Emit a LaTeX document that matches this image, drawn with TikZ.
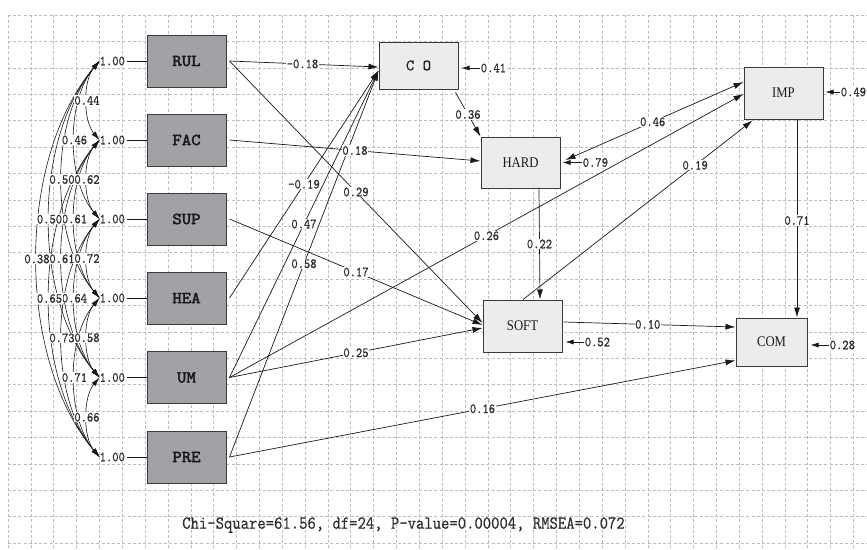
\documentclass[tikz,border=0pt]{standalone}
\usepackage{fontspec}
\usepackage{graphicx}
\usetikzlibrary{arrows.meta,calc}
\newfontfamily\boxserif{Liberation Serif}
\newfontfamily\monoheavy{lmmono10-regular.otf}[FakeBold=2.4]
\newfontfamily\monomid{lmmono10-regular.otf}[FakeBold=0.7]
\newfontfamily\monolight{lmmono10-regular.otf}[FakeBold=0.3]
\definecolor{exofill}{HTML}{A2A2A6}
\definecolor{endofill}{HTML}{ECECEC}
\definecolor{boxline}{HTML}{3A3A3A}
\definecolor{gridcol}{HTML}{BEBEBE}
\definecolor{ink}{HTML}{1A1A1A}
\definecolor{labink}{HTML}{2C2C2C}
% text helpers: numbers and titles are set slightly tall
\newcommand\tallbox[1]{\scalebox{1}[1.16]{#1}}
\newcommand\nv[1]{\tallbox{\fontsize{12}{12}\selectfont\monomid #1}}
\newcommand\exotext[1]{\scalebox{1.12}[1.05]{\fontsize{16}{16}\selectfont\monoheavy #1}}
\newcommand\latenttext[1]{\tallbox{\fontsize{12.7}{13}\selectfont\boxserif #1}}

\begin{document}
\begin{tikzpicture}[x=1pt,y=-1pt,
  gridline/.style={draw=gridcol, line width=0.6pt, dash pattern=on 3pt off 2.2pt},
  exo/.style={draw=boxline, line width=1pt, fill=exofill, minimum width=79pt,
              minimum height=52pt, inner sep=0pt, text=ink},
  endo/.style={draw=boxline, line width=1pt, fill=endofill, minimum width=79pt,
               minimum height=52pt, inner sep=0pt, text=ink},
  lbl/.style={fill=white, inner sep=0.6pt, text=labink},
  varlbl/.style={inner sep=0pt, anchor=west, text=labink},
  pathto/.style={draw=ink, line width=0.7pt, -{Latex[length=10pt,width=6pt]}},
  pathboth/.style={draw=ink, line width=0.7pt,
                   {Latex[length=10pt,width=6pt]}-{Latex[length=10pt,width=6pt]}},
  covarc/.style={draw=ink, line width=0.6pt,
                 {Latex[length=9pt,width=5pt]}-{Latex[length=9pt,width=5pt]}},
  errarrow/.style={draw=ink, line width=0.7pt, -{Latex[length=8pt,width=5pt]}},
  tie/.style={draw=ink, line width=0.7pt}
]
\useasboundingbox (0,0) rectangle (867,549);
\fill[white] (0,0) rectangle (867,549);

% background grid
\foreach \i in {0,...,37} \draw[gridline] ({8+22.85*\i},15) -- ({8+22.85*\i},549);
\foreach \j in {0,...,20} \draw[gridline] (8,{15+26.4*\j}) -- (867,{15+26.4*\j});

% observed exogenous variables
\node[exo] (RUL) at (186.5,61)    {\exotext{RUL}};
\node[exo] (FAC) at (186.5,140)   {\exotext{FAC}};
\node[exo] (SUP) at (186.5,219)   {\exotext{SUP}};
\node[exo] (HEA) at (186.5,298)   {\exotext{HEA}};
\node[exo] (UM)  at (186.5,377.5) {\exotext{UM}};
\node[exo] (PRE) at (186.5,457)   {\exotext{PRE}};

% endogenous variables
\node[endo, minimum height=47pt] (CO) at (418.5,65.5)
  {\fontsize{16}{16}\selectfont\monolight C O};
\node[endo, minimum height=51pt] (HARD) at (520.5,162.5) {\latenttext{HARD}};
\node[endo] (SOFT) at (522.5,326) {\latenttext{SOFT}};
\node[endo] (IMP)  at (783.5,93)  {\latenttext{IMP}};
\node[endo, minimum width=71pt, minimum height=48pt] (COM) at (771.5,342)
  {\latenttext{COM}};

% variances of the exogenous variables
\foreach \v/\k in {RUL/1,FAC/2,SUP/3,HEA/4,UM/5,PRE/6}{
  \node[varlbl] (var\v) at ($(\v.west)+(-47,0)$) {\nv{1.00}};
  \coordinate (c\k) at (var\v.west);
  \draw[tie] ($(var\v.east)+(1.5,0)$) -- (\v.west);
}

% covariance arcs
\foreach \a/\b in {1/2,2/3,3/4,4/5,5/6,1/3,2/4,3/5,4/6,1/4,2/5,3/6,1/5,2/6,1/6}{
  \pgfmathtruncatemacro\n{\b-\a}
  \draw[covarc] (c\a) .. controls ($(c\a)+({-16.67*\n},{19.75*\n})$)
                      and ($(c\b)+({-16.67*\n},{-19.75*\n})$) .. (c\b);
}
\foreach \a/\b/\v in {1/2/0.44,2/3/0.62,3/4/0.72,4/5/0.58,5/6/0.66,
                      1/3/0.46,2/4/0.61,3/5/0.64,4/6/0.71,
                      1/4/0.50,2/5/0.61,3/6/0.73,
                      1/5/0.50,2/6/0.65,
                      1/6/0.38}{
  \pgfmathtruncatemacro\n{\b-\a}
  \node[lbl] at ($(c\a)!0.5!(c\b)+({-12.5*\n},0)$) {\nv{\v}};
}

% path end points
\foreach \v in {RUL,FAC,SUP,HEA,UM,PRE} \coordinate (o\v) at ($(\v.east)+(3,0)$);
\coordinate (tCOa)    at ($(CO.west)+(0,1.5)$);
\coordinate (tCOb)    at ($(CO.west)+(0,5)$);
\coordinate (tHARDw)  at ($(HARD.west)+(0,-1.5)$);
\coordinate (tSOFTa)  at ($(SOFT.west)+(0,-3)$);
\coordinate (tSOFTb)  at ($(SOFT.west)+(0,-1)$);
\coordinate (tSOFTc)  at ($(SOFT.west)+(0,2)$);
\coordinate (tIMPa)   at ($(IMP.west)+(0,1)$);
\coordinate (tIMPb)   at ($(IMP.west)+(0,-11)$);
\coordinate (tCOMw)   at ($(COM.south west)+(0,-6)$);
\coordinate (oCO)     at ($(CO.south east)+(-3,3)$);
\coordinate (tHARDnw) at (HARD.north west);
\coordinate (oHARDs)  at ($(HARD.south)+(18.5,0)$);
\coordinate (tSOFTn)  at ($(SOFT.north)+(17.5,0)$);
\coordinate (oSOFTn)  at ($(SOFT.north)+(0.5,0)$);
\coordinate (tIMPsw)  at ($(IMP.south west)+(9,1)$);
\coordinate (oHARDe)  at ($(HARD.east)+(5,-2.5)$);
\coordinate (oIMPs)   at ($(IMP.south)+(13.5,0)$);
\coordinate (tCOMn)   at ($(COM.north)+(25.5,0)$);
\coordinate (oSOFTe)  at ($(SOFT.east)+(1,-4)$);
\coordinate (tCOMa)   at ($(COM.west)+(0,-15)$);

% structural paths
\def\pathlist{oRUL/tCOa/0.49/-0.18, oRUL/tSOFTa/0.5/0.29, oFAC/tHARDw/0.5/0.18,
  oSUP/tSOFTb/0.5/0.17, oHEA/tCOb/0.5/-0.19, oUM/tCOb/0.5/0.47, oPRE/tCOb/0.5/0.58,
  oUM/tIMPa/0.5/0.26, oUM/tSOFTc/0.5/0.25, oPRE/tCOMw/0.5/0.16, oCO/tHARDnw/0.5/0.36,
  oHARDs/tSOFTn/0.5/0.22, oSOFTn/tIMPsw/0.75/0.19, oIMPs/tCOMn/0.51/0.71,
  oSOFTe/tCOMa/0.49/0.10}
\foreach \s/\t/\p/\v in \pathlist \draw[pathto] (\s) -- (\t);
\draw[pathboth] (oHARDe) -- (tIMPb);
\foreach \s/\t/\p/\v in \pathlist \path (\s) -- (\t) node[lbl, pos=\p] {\nv{\v}};
\path (oHARDe) -- (tIMPb) node[lbl, pos=0.49] {\nv{0.46}};

% error variances
\node[lbl, anchor=west] (eCO)   at (480,68)    {\nv{0.41}};
\node[lbl, anchor=west] (eHARD) at (582,162.5) {\nv{0.79}};
\node[lbl, anchor=west] (eIMP)  at (840,92)    {\nv{0.49}};
\node[lbl, anchor=west] (eSOFT) at (584,342)   {\nv{0.52}};
\node[lbl, anchor=west] (eCOM)  at (829,345)   {\nv{0.28}};
\draw[errarrow] (eCO.west)   -- ($(CO.east)+(3,2.5)$);
\draw[errarrow] (eHARD.west) -- ($(HARD.east)+(2,0)$);
\draw[errarrow] (eIMP.west)  -- ($(IMP.east)+(2,-1)$);
\draw[errarrow] (eSOFT.west) -- ($(SOFT.east)+(3,16)$);
\draw[errarrow] (eCOM.west)  -- ($(COM.east)+(3,3)$);

% fit statistics
\node[text=labink] (fit) at (403.5,525)
  {\tallbox{\fontsize{15.9}{16}\selectfont\monolight Chi-Square=61.56, df=24, P-value=0.00004, RMSEA=0.072}};
\end{tikzpicture}
\end{document}
